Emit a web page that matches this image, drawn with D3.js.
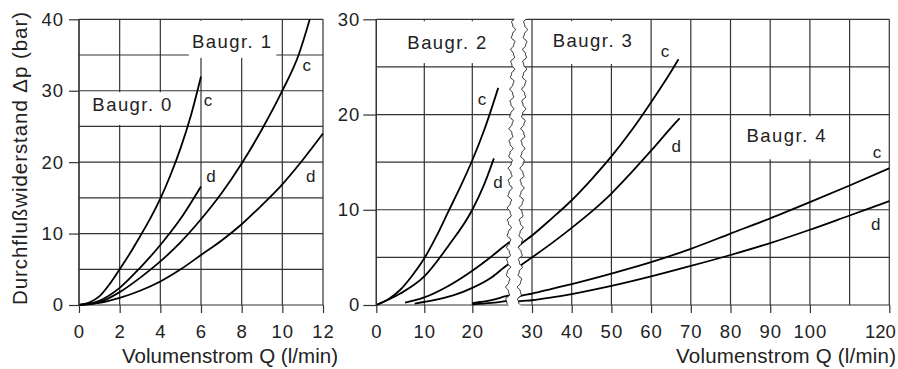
<!DOCTYPE html>
<html>
<head>
<meta charset="utf-8">
<script src="https://cdn.jsdelivr.net/npm/d3@7"></script>
<style>
  body { margin: 0; background: #fff; }
  svg { display: block; font-family: "Liberation Sans", Arial, sans-serif; }
  .grid line { stroke: #333; stroke-width: 1.2; }
  .axis .tick line { stroke: #333; stroke-width: 1.2; }
  .axis .tick text { font-size: 18.5px; fill: #222; letter-spacing: 1px; }
  .curve { fill: none; stroke: #000; stroke-width: 1.8; }
  .wave { fill: none; stroke: #222; stroke-width: 1; }
  .title { font-size: 20.5px; fill: #222; }
  .group { font-size: 18.5px; fill: #222; }
  .cd { font-size: 17px; fill: #222; }
</style>
</head>
<body>
<svg id="chart" width="898" height="369"></svg>
<script>
// ---- data (Q in l/min, dp in bar) ----

// left panel, Baugr. 0 and 1
var q0c = [0, 0.5, 1, 1.5, 2, 2.5, 3, 3.5, 4, 4.5, 5, 5.5, 6];
var p0c = [0, 0.35, 1.2, 2.9, 5, 7.2, 9.6, 12.1, 14.9, 18.2, 22.0, 26.5, 32];
var q0d = [0, 1, 2, 3, 4, 5, 6];
var p0d = [0, 0.6, 2.4, 5.2, 8.4, 12.1, 16.6];
var q1c = [0, 1, 2, 3, 4, 5, 6, 7, 8, 9, 10, 10.8, 11.35];
var p1c = [0, 0.4, 1.8, 3.8, 6.1, 8.8, 12, 15.6, 19.8, 24.6, 30, 35, 40];
var q1d = [0, 1, 2, 3, 4, 5, 6, 7, 8, 9, 10, 11, 12];
var p1d = [0, 0.3, 1.0, 2.0, 3.3, 5.0, 7.0, 9.0, 11.3, 14, 16.9, 20.3, 24];

// right panel, Baugr. 2, 3 and 4 (broken axis)
var q2c = [0, 2.5, 5, 7.5, 10, 12.5, 15, 17.5, 20, 22.5, 25.4];
var p2c = [0, 0.6, 1.6, 3.1, 4.9, 7.2, 9.8, 12.4, 15.2, 18.4, 22.8];
var q2d = [0, 5, 10, 15, 20, 22.5, 24.5];
var p2d = [0, 1.2, 3.0, 6.2, 10, 12.7, 15.4];
var q3c = [6, 10, 15, 20, 24, 27.5, 30, 35, 40, 45, 50, 55, 60, 65, 66.9];
var p3c = [0.25, 0.8, 2.0, 3.6, 5.1, 6.5, 7.3, 9.1, 11.0, 13.2, 15.6, 18.3, 21.3, 24.5, 25.8];
var q3d = [8, 12, 16, 20, 24, 27.3, 30, 35, 40, 45, 50, 55, 60, 65, 67.2];
var p3d = [0.15, 0.5, 1.0, 1.8, 2.9, 4.2, 5.0, 6.5, 8.1, 9.8, 11.7, 13.9, 16.2, 18.6, 19.6];
var q4c = [20, 24, 27.2, 30, 35, 40, 50, 60, 70, 80, 90, 100, 110, 120];
var p4c = [0.2, 0.5, 0.95, 1.2, 1.7, 2.2, 3.3, 4.5, 5.9, 7.5, 9.1, 10.8, 12.55, 14.35];
var q4d = [20, 24, 27.2, 30, 35, 40, 50, 60, 70, 80, 90, 100, 110, 120];
var p4d = [0.08, 0.22, 0.4, 0.5, 0.8, 1.15, 2.0, 3.0, 4.1, 5.25, 6.5, 7.9, 9.4, 10.9];

// ticks
var leftQTicks = [0, 2, 4, 6, 8, 10, 12];
var leftPTicks = [0, 10, 20, 30, 40];
var rightQTicksA = [0, 10, 20];
var rightQTicksB = [30, 40, 50, 60, 70, 80, 90, 100, 120];
var rightQGridB = [30, 40, 50, 60, 70, 80, 90, 100, 110, 120];
var rightPTicks = [0, 10, 20, 30];

// group labels: name, box [q0,q1,p0,p1], text anchor [q,p]
var groupNames = ["Baugr. 0", "Baugr. 1", "Baugr. 2", "Baugr. 3", "Baugr. 4"];
var groupBoxes = [[0.4, 5.2, 25.2, 29.8], [5.4, 9.7, 34.6, 39.8], [4.5, 24.9, 25.4, 29.8], [32, 57.2, 25.3, 29.8], [82.4, 108.8, 15.3, 19.8]];
var groupText = [[2.6, 27.1], [7.5, 36.0], [14.7, 26.9], [45.2, 27.1], [94.0, 17.1]];

// c / d curve tags
var tagNames = ["c", "d", "c", "d", "c", "d", "c", "d", "c", "d"];
var tagAt = [[6.34, 27.9], [6.49, 17.2], [11.2, 32.7], [11.4, 17.2], [22.0, 21.0], [25.35, 12.3], [63.5, 26.0], [66.3, 16.1], [116.9, 15.4], [116.6, 7.9]];

var svg = d3.select("#chart");

// scales
var xL = d3.scaleLinear().domain([0, 12]).range([79, 323]);
var yL = d3.scaleLinear().domain([0, 40]).range([305, 19.3]);
var xA = d3.scaleLinear().domain([0, 20]).range([376.3, 472.3]);   // right panel, before break
var xB = d3.scaleLinear().domain([30, 120]).range([532, 889.3]);   // right panel, after break
var yR = d3.scaleLinear().domain([0, 30]).range([305, 19.3]);

function pts(q, p) { return q.map(function(v, i) { return [v, p[i]]; }); }

// wavy break lines (drawing only)
function wave(xBottom, xTop, y0, y1) {
  var out = [];
  for (var y = y0; y <= y1; y += 1) {
    var t = (305 - y) / 286;
    out.push([xBottom + (xTop - xBottom) * t + 1.7 * Math.sin(y / 2.1) + 0.6 * Math.sin(y / 0.9), y]);
  }
  return out;
}
var waveL = wave(507.5, 513.5, 19.3, 305);
var waveR = wave(519.3, 525.5, 19.3, 305);
var waveLclip = wave(507.5, 513.5, -5, 380);
var waveRclip = wave(519.3, 525.5, -5, 380);

var defs = svg.append("defs");
defs.append("clipPath").attr("id", "clipA").append("path")
  .attr("d", d3.line()(waveLclip.concat([[340, 380], [340, -5]])) + "Z");
defs.append("clipPath").attr("id", "clipB").append("path")
  .attr("d", d3.line()(waveRclip.concat([[898, 380], [898, -5]])) + "Z");

// ---- left panel grid ----
var gl = svg.append("g").attr("class", "grid");
gl.selectAll(".h").data(d3.range(0, 41, 5)).enter().append("line")
  .attr("x1", xL(0)).attr("x2", xL(12))
  .attr("y1", function(d) { return yL(d); }).attr("y2", function(d) { return yL(d); });
gl.selectAll(".v").data(leftQTicks).enter().append("line")
  .attr("x1", function(d) { return xL(d); }).attr("x2", function(d) { return xL(d); })
  .attr("y1", yL(40)).attr("y2", yL(0));

// ---- right panel grid ----
var gr = svg.append("g").attr("class", "grid");
["clipA", "clipB"].forEach(function(id) {
  gr.append("g").attr("clip-path", "url(#" + id + ")")
    .selectAll("line").data(d3.range(0, 31, 5)).enter().append("line")
    .attr("x1", xA(0)).attr("x2", xB(120))
    .attr("y1", function(d) { return yR(d); }).attr("y2", function(d) { return yR(d); });
});
gr.selectAll(".va").data(rightQTicksA).enter().append("line")
  .attr("x1", function(d) { return xA(d); }).attr("x2", function(d) { return xA(d); })
  .attr("y1", yR(30)).attr("y2", yR(0));
gr.selectAll(".vb").data(rightQGridB).enter().append("line")
  .attr("x1", function(d) { return xB(d); }).attr("x2", function(d) { return xB(d); })
  .attr("y1", yR(30)).attr("y2", yR(0));

// ---- white label boxes ----
groupBoxes.forEach(function(b, i) {
  var xs = i < 2 ? xL : (i == 2 ? xA : xB);
  var ys = i < 2 ? yL : yR;
  svg.append("rect")
    .attr("x", xs(b[0])).attr("width", xs(b[1]) - xs(b[0]))
    .attr("y", ys(b[3])).attr("height", ys(b[2]) - ys(b[3]))
    .attr("fill", "#fff");
});

// break
svg.append("path").attr("class", "wave").attr("d", d3.line()(waveL));
svg.append("path").attr("class", "wave").attr("d", d3.line()(waveR));

// ---- curves ----
var lineL = d3.line().curve(d3.curveMonotoneX).x(function(d) { return xL(d[0]); }).y(function(d) { return yL(d[1]); });
var lineA = d3.line().curve(d3.curveMonotoneX).x(function(d) { return xA(d[0]); }).y(function(d) { return yR(d[1]); });
var lineB = d3.line().curve(d3.curveMonotoneX).x(function(d) { return xB(d[0]); }).y(function(d) { return yR(d[1]); });

[pts(q0c, p0c), pts(q0d, p0d), pts(q1c, p1c), pts(q1d, p1d)].forEach(function(s) {
  svg.append("path").attr("class", "curve").attr("d", lineL(s));
});
var gA = svg.append("g").attr("clip-path", "url(#clipA)");
var gB = svg.append("g").attr("clip-path", "url(#clipB)");
[pts(q2c, p2c), pts(q2d, p2d), pts(q3c, p3c), pts(q3d, p3d), pts(q4c, p4c), pts(q4d, p4d)].forEach(function(s) {
  gA.append("path").attr("class", "curve").attr("d", lineA(s));
  gB.append("path").attr("class", "curve").attr("d", lineB(s));
});

// ---- axes ----
function noDomain(g) { g.select(".domain").remove(); g.attr("font-size", null).attr("font-family", null); }

svg.append("g").attr("class", "axis").attr("transform", "translate(0," + yL(0) + ")")
  .call(d3.axisBottom(xL).tickValues(leftQTicks).tickSize(8).tickPadding(12)).call(noDomain);
svg.append("g").attr("class", "axis").attr("transform", "translate(" + xL(0) + ",0)")
  .call(d3.axisLeft(yL).tickValues(leftPTicks).tickSize(10).tickPadding(5)).call(noDomain);

svg.append("g").attr("class", "axis").attr("transform", "translate(0," + yR(0) + ")")
  .call(d3.axisBottom(xA).tickValues(rightQTicksA).tickSize(8).tickPadding(12)).call(noDomain);
svg.append("g").attr("class", "axis").attr("transform", "translate(0," + yR(0) + ")")
  .call(d3.axisBottom(xB).tickValues(rightQTicksB).tickSize(8).tickPadding(12)).call(noDomain)
  .selectAll(".tick text").filter(function(d) { return d === 120; })
    .attr("text-anchor", "end").attr("dx", "6").style("letter-spacing", "0px");
svg.append("g").attr("class", "axis").attr("transform", "translate(" + xA(0) + ",0)")
  .call(d3.axisLeft(yR).tickValues(rightPTicks).tickSize(13).tickPadding(3)).call(noDomain);

// axis border lines
var border = svg.append("g").attr("class", "grid");
border.append("line").attr("x1", xL(0)).attr("x2", xL(0)).attr("y1", yL(40)).attr("y2", yL(0));
border.append("line").attr("x1", xA(0)).attr("x2", xA(0)).attr("y1", yR(30)).attr("y2", yR(0));

// ---- texts ----
svg.append("text").attr("class", "title")
  .attr("x", 230).attr("y", 363).attr("text-anchor", "middle")
  .attr("textLength", 216).attr("lengthAdjust", "spacing")
  .text("Volumenstrom Q (l/min)");
svg.append("text").attr("class", "title")
  .attr("x", 896).attr("y", 363).attr("text-anchor", "end")
  .attr("textLength", 220).attr("lengthAdjust", "spacing")
  .text("Volumenstrom Q (l/min)");
svg.append("text").attr("class", "title")
  .attr("transform", "translate(27,158.5) rotate(-90)").attr("text-anchor", "middle")
  .attr("textLength", 293).attr("lengthAdjust", "spacing")
  .text("Durchflußwiderstand Δp (bar)");

groupNames.forEach(function(name, i) {
  var xs = i < 2 ? xL : (i == 2 ? xA : xB);
  var ys = i < 2 ? yL : yR;
  svg.append("text").attr("class", "group")
    .attr("x", xs(groupText[i][0])).attr("y", ys(groupText[i][1]))
    .attr("text-anchor", "middle")
    .attr("textLength", 79).attr("lengthAdjust", "spacing")
    .text(name);
});

tagNames.forEach(function(t, i) {
  var xs = i < 4 ? xL : (i < 6 ? xA : xB);
  var ys = i < 4 ? yL : yR;
  svg.append("text").attr("class", "cd")
    .attr("x", xs(tagAt[i][0])).attr("y", ys(tagAt[i][1]))
    .attr("text-anchor", "middle").text(t);
});
</script>
</body>
</html>
